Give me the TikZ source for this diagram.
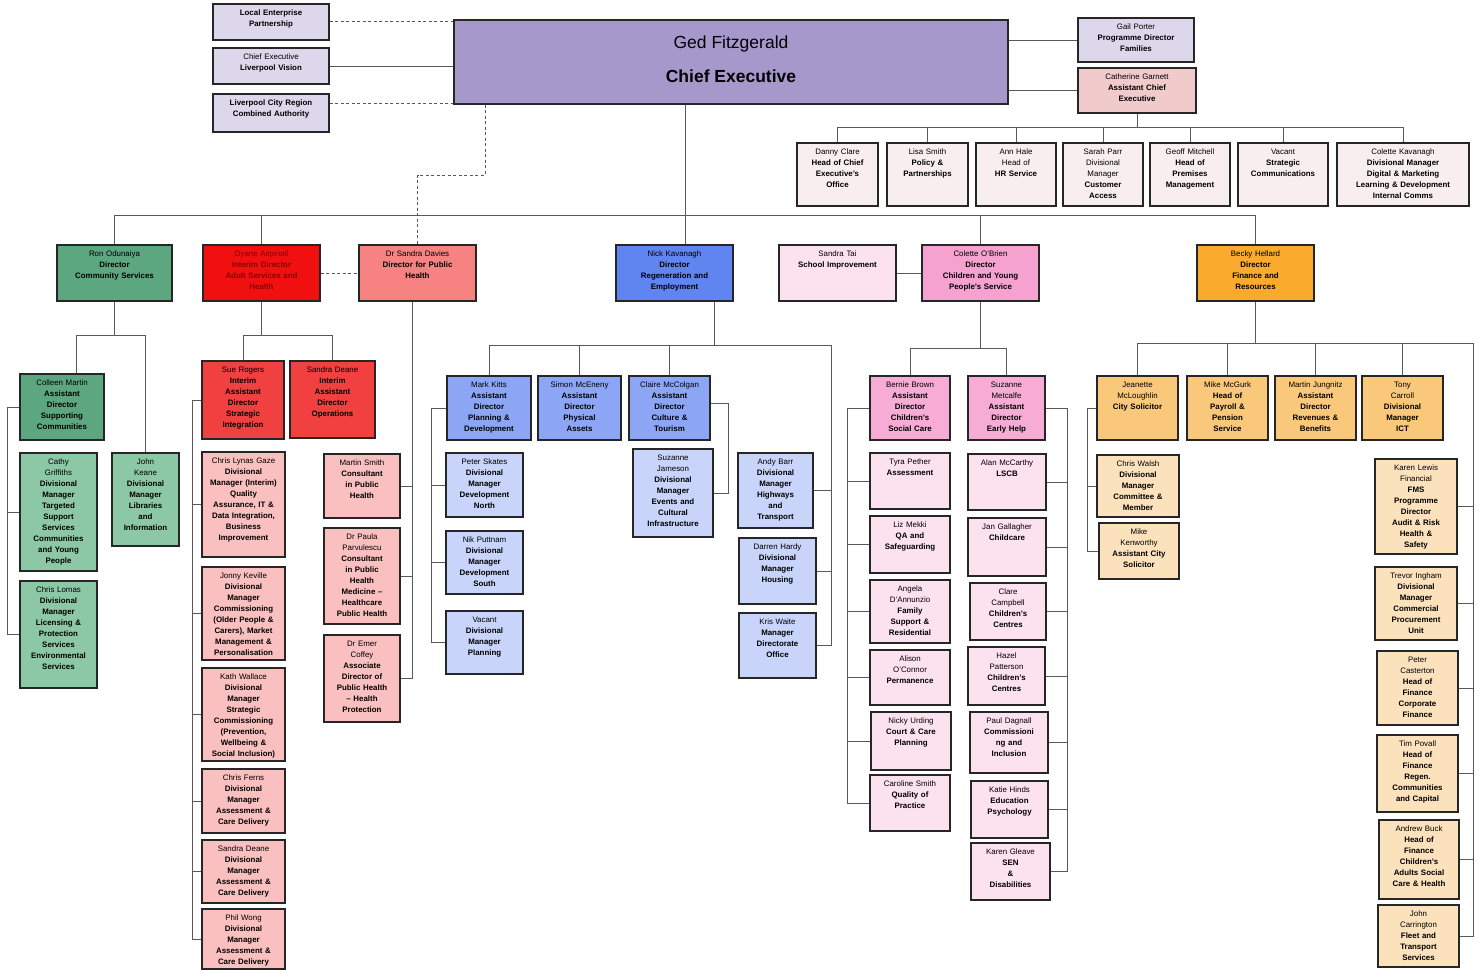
\documentclass[tikz,border=0pt]{standalone}
\usepackage{fontspec}
\setmainfont{Liberation Sans}
\usetikzlibrary{positioning}
\usepackage{xcolor}

\definecolor{ceopurple}{RGB}{167,152,204}
\definecolor{lavlt}{RGB}{221,215,236}
\definecolor{rosecath}{RGB}{241,203,203}
\definecolor{stafffill}{RGB}{248,238,238}
\definecolor{greendk}{RGB}{92,166,128}
\definecolor{greenlt}{RGB}{140,200,165}
\definecolor{reddir}{RGB}{240,16,16}
\definecolor{redmd}{RGB}{240,64,64}
\definecolor{redlt}{RGB}{250,192,192}
\definecolor{salmon}{RGB}{246,130,130}
\definecolor{bluedir}{RGB}{96,132,240}
\definecolor{bluemd}{RGB}{140,166,245}
\definecolor{bluelt}{RGB}{200,212,250}
\definecolor{pinkdir}{RGB}{246,162,208}
\definecolor{pinkmd}{RGB}{246,172,212}
\definecolor{pinklt}{RGB}{252,226,238}
\definecolor{orangedir}{RGB}{250,170,44}
\definecolor{orangemd}{RGB}{250,200,122}
\definecolor{orangelt}{RGB}{252,226,188}

\tikzset{
  box/.style={draw=black!85, line width=1.1pt},
  boxtext/.style={anchor=north, yshift=-6pt, inner sep=0pt, align=center,
    font=\fontsize{7.9}{11}\selectfont},
  link/.style={draw=black!65, line width=1pt},
  dashline/.style={link, dash pattern=on 3pt off 2.5pt}
}

% box: name, fill, x1, y1, x2, y2, text
\newcommand{\orgbox}[7]{%
  \pgfmathsetmacro\boxw{#5-#3}%
  \pgfmathsetmacro\boxh{#6-#4}%
  \pgfmathsetmacro\txtw{#5-#3+8}%
  \node[box, fill=#2, minimum width=\boxw pt, minimum height=\boxh pt] (#1) at ({(#3+#5)/2},{(#4+#6)/2}) {};
  \node[boxtext, text width=\txtw pt] (#1-t) at (#1.north) {#7};}

\begin{document}
\begin{tikzpicture}[x=1pt, y=-1pt]

\useasboundingbox (0,0) rectangle (1480,970);
\fill[white] (0,0) rectangle (1480,970);

% chief executive and partners
\node[box, fill=ceopurple, minimum width=554pt, minimum height=84pt] (chief) at (731,62) {};
\node[font=\fontsize{17.5}{20}\selectfont] (chief-name) at (731,44) {Ged Fitzgerald};
\node[font=\bfseries\fontsize{17.5}{20}\selectfont] (chief-role) at (731,76) {Chief Executive};

\orgbox{lep}{lavlt}{213}{4}{329}{40}{\bfseries Local Enterprise\\Partnership}
\orgbox{celv}{lavlt}{213}{48}{329}{84}{Chief Executive\\\bfseries Liverpool Vision}
\orgbox{lcrca}{lavlt}{213}{94}{329}{132}{\bfseries Liverpool City Region\\Combined Authority}
\orgbox{gail}{lavlt}{1078}{18}{1194}{62}{Gail Porter\\\bfseries Programme Director\\Families}
\orgbox{cath}{rosecath}{1078}{68}{1196}{113}{Catherine Garnett\\\bfseries Assistant Chief\\Executive}

% office of the chief executive
\orgbox{danny}{stafffill}{797}{143}{878}{206}{Danny Clare\\\bfseries Head of Chief\\Executive's\\Office}
\orgbox{lisa}{stafffill}{887}{143}{968}{206}{Lisa Smith\\\bfseries Policy \&\\Partnerships}
\orgbox{annh}{stafffill}{976}{143}{1056}{206}{Ann Hale\\Head of\\\bfseries HR Service}
\orgbox{sarah}{stafffill}{1063}{143}{1143}{206}{Sarah Parr\\Divisional\\Manager\\\bfseries Customer\\Access}
\orgbox{geoff}{stafffill}{1150}{143}{1230}{206}{Geoff Mitchell\\\bfseries Head of\\Premises\\Management}
\orgbox{vacanta}{stafffill}{1238}{143}{1328}{206}{Vacant\\\bfseries Strategic\\Communications}
\orgbox{colk}{stafffill}{1337}{143}{1469}{206}{Colette Kavanagh\\\bfseries Divisional Manager\\Digital \& Marketing\\Learning \& Development\\Internal Comms}

% directors
\orgbox{ron}{greendk}{57}{245}{172}{301}{Ron Odunaiya\\\bfseries Director\\Community Services}
\orgbox{dyane}{reddir}{203}{245}{320}{301}{\color{red!55!black}Dyane Aspinall\\\bfseries Interim Director\\Adult Services and\\Health}
\orgbox{sdavies}{salmon}{359}{245}{476}{301}{Dr Sandra Davies\\\bfseries Director for Public\\Health}
\orgbox{nick}{bluedir}{616}{245}{733}{301}{Nick Kavanagh\\\bfseries Director\\Regeneration and\\Employment}
\orgbox{stai}{pinklt}{779}{245}{896}{301}{Sandra Tai\\\bfseries School Improvement}
\orgbox{cobrien}{pinkdir}{922}{245}{1039}{301}{Colette O'Brien\\\bfseries Director\\Children and Young\\People's Service}
\orgbox{becky}{orangedir}{1197}{245}{1314}{301}{Becky Hellard\\\bfseries Director\\Finance and\\Resources}

% community services
\orgbox{colleen}{greendk}{20}{374}{104}{440}{Colleen Martin\\\bfseries Assistant\\Director\\Supporting\\Communities}
\orgbox{cathy}{greenlt}{20}{453}{97}{571}{Cathy\\Griffiths\\\bfseries Divisional\\Manager\\Targeted\\Support\\Services\\Communities\\and Young\\People}
\orgbox{lomas}{greenlt}{20}{581}{97}{688}{Chris Lomas\\\bfseries Divisional\\Manager\\Licensing \&\\Protection\\Services\\Environmental\\Services}
\orgbox{keane}{greenlt}{112}{453}{179}{546}{John\\Keane\\\bfseries Divisional\\Manager\\Libraries\\and\\Information}

% adult services
\orgbox{sue}{redmd}{202}{361}{284}{439}{Sue Rogers\\\bfseries Interim\\Assistant\\Director\\Strategic\\Integration}
\orgbox{sdeane}{redmd}{290}{361}{375}{438}{Sandra Deane\\\bfseries Interim\\Assistant\\Director\\Operations}
\orgbox{lynas}{redlt}{202}{452}{285}{557}{Chris Lynas Gaze\\\bfseries Divisional\\Manager (Interim)\\Quality\\Assurance, IT \&\\Data Integration,\\Business\\Improvement}
\orgbox{keville}{redlt}{202}{567}{285}{660}{Jonny Keville\\\bfseries Divisional\\Manager\\Commissioning\\(Older People \&\\Carers), Market\\Management \&\\Personalisation}
\orgbox{wallace}{redlt}{202}{668}{285}{761}{Kath Wallace\\\bfseries Divisional\\Manager\\Strategic\\Commissioning\\(Prevention,\\Wellbeing \&\\Social Inclusion)}
\orgbox{ferns}{redlt}{202}{769}{285}{833}{Chris Ferns\\\bfseries Divisional\\Manager\\Assessment \&\\Care Delivery}
\orgbox{sdeaneb}{redlt}{202}{840}{285}{903}{Sandra Deane\\\bfseries Divisional\\Manager\\Assessment \&\\Care Delivery}
\orgbox{wong}{redlt}{202}{909}{285}{969}{Phil Wong\\\bfseries Divisional\\Manager\\Assessment \&\\Care Delivery}

% public health
\orgbox{msmith}{redlt}{324}{454}{400}{518}{Martin Smith\\\bfseries Consultant\\in Public\\Health}
\orgbox{parvu}{redlt}{324}{528}{400}{624}{Dr Paula\\Parvulescu\\\bfseries Consultant\\in Public\\Health\\Medicine --\\Healthcare\\Public Health}
\orgbox{coffey}{redlt}{324}{635}{400}{722}{Dr Emer\\Coffey\\\bfseries Associate\\Director of\\Public Health\\-- Health\\Protection}

% regeneration
\orgbox{kitts}{bluemd}{447}{376}{531}{440}{Mark Kitts\\\bfseries Assistant\\Director\\Planning \&\\Development}
\orgbox{mceneny}{bluemd}{538}{376}{621}{440}{Simon McEneny\\\bfseries Assistant\\Director\\Physical\\Assets}
\orgbox{mccolgan}{bluemd}{629}{376}{710}{440}{Claire McColgan\\\bfseries Assistant\\Director\\Culture \&\\Tourism}
\orgbox{skates}{bluelt}{446}{453}{523}{517}{Peter Skates\\\bfseries Divisional\\Manager\\Development\\North}
\orgbox{puttnam}{bluelt}{446}{531}{523}{594}{Nik Puttnam\\\bfseries Divisional\\Manager\\Development\\South}
\orgbox{vacantb}{bluelt}{446}{611}{523}{674}{Vacant\\\bfseries Divisional\\Manager\\Planning}
\orgbox{jameson}{bluelt}{633}{449}{713}{537}{Suzanne\\Jameson\\\bfseries Divisional\\Manager\\Events and\\Cultural\\Infrastructure}
\orgbox{barr}{bluelt}{738}{453}{813}{528}{Andy Barr\\\bfseries Divisional\\Manager\\Highways\\and\\Transport}
\orgbox{hardy}{bluelt}{739}{538}{816}{604}{Darren Hardy\\\bfseries Divisional\\Manager\\Housing}
\orgbox{waite}{bluelt}{739}{613}{816}{678}{Kris Waite\\\bfseries Manager\\Directorate\\Office}

% children and young people
\orgbox{bbrown}{pinkmd}{870}{376}{950}{440}{Bernie Brown\\\bfseries Assistant\\Director\\Children's\\Social Care}
\orgbox{metcalfe}{pinkmd}{968}{376}{1045}{440}{Suzanne\\Metcalfe\\\bfseries Assistant\\Director\\Early Help}
\orgbox{pether}{pinklt}{870}{453}{950}{509}{Tyra Pether\\\bfseries Assessment}
\orgbox{mekki}{pinklt}{870}{516}{950}{573}{Liz Mekki\\\bfseries QA and\\Safeguarding}
\orgbox{dannunzio}{pinklt}{870}{580}{950}{643}{Angela\\D'Annunzio\\\bfseries Family\\Support \&\\Residential}
\orgbox{oconnor}{pinklt}{870}{650}{950}{705}{Alison\\O'Connor\\\bfseries Permanence}
\orgbox{urding}{pinklt}{871}{712}{951}{770}{Nicky Urding\\\bfseries Court \& Care\\Planning}
\orgbox{csmith}{pinklt}{870}{775}{950}{831}{Caroline Smith\\\bfseries Quality of\\Practice}
\orgbox{mccarthy}{pinklt}{968}{454}{1046}{510}{Alan McCarthy\\\bfseries LSCB}
\orgbox{gallagher}{pinklt}{968}{518}{1046}{576}{Jan Gallagher\\\bfseries Childcare}
\orgbox{campbell}{pinklt}{970}{583}{1046}{640}{Clare\\Campbell\\\bfseries Children's\\Centres}
\orgbox{patterson}{pinklt}{968}{647}{1045}{705}{Hazel\\Patterson\\\bfseries Children's\\Centres}
\orgbox{dagnall}{pinklt}{970}{712}{1048}{773}{Paul Dagnall\\\bfseries Commissioni\\ng and\\Inclusion}
\orgbox{hinds}{pinklt}{971}{781}{1048}{838}{Katie Hinds\\\bfseries Education\\Psychology}
\orgbox{gleave}{pinklt}{971}{843}{1050}{900}{Karen Gleave\\\bfseries SEN\\\&\\Disabilities}

% finance and resources
\orgbox{jeanette}{orangemd}{1097}{376}{1178}{440}{Jeanette\\McLoughlin\\\bfseries City Solicitor}
\orgbox{mcgurk}{orangemd}{1187}{376}{1268}{440}{Mike McGurk\\\bfseries Head of\\Payroll \&\\Pension\\Service}
\orgbox{jungnitz}{orangemd}{1275}{376}{1356}{440}{Martin Jungnitz\\\bfseries Assistant\\Director\\Revenues \&\\Benefits}
\orgbox{carroll}{orangemd}{1362}{376}{1443}{440}{Tony\\Carroll\\\bfseries Divisional\\Manager\\ICT}
\orgbox{walsh}{orangelt}{1097}{455}{1179}{517}{Chris Walsh\\\bfseries Divisional\\Manager\\Committee \&\\Member}
\orgbox{kenworthy}{orangelt}{1099}{523}{1179}{579}{Mike\\Kenworthy\\\bfseries Assistant City\\Solicitor}
\orgbox{lewis}{orangelt}{1375}{459}{1457}{554}{Karen Lewis\\Financial\\\bfseries FMS\\Programme\\Director\\Audit \& Risk\\Health \&\\Safety}
\orgbox{ingham}{orangelt}{1375}{567}{1457}{640}{Trevor Ingham\\\bfseries Divisional\\Manager\\Commercial\\Procurement\\Unit}
\orgbox{casterton}{orangelt}{1377}{651}{1458}{725}{Peter\\Casterton\\\bfseries Head of\\Finance\\Corporate\\Finance}
\orgbox{povall}{orangelt}{1377}{735}{1458}{812}{Tim Povall\\\bfseries Head of\\Finance\\Regen.\\Communities\\and Capital}
\orgbox{buck}{orangelt}{1379}{820}{1459}{899}{Andrew Buck\\\bfseries Head of\\Finance\\Children's\\Adults Social\\Care \& Health}
\orgbox{carrington}{orangelt}{1378}{905}{1459}{967}{John\\Carrington\\\bfseries Fleet and\\Transport\\Services}

% top links
\draw[dashline] ([yshift=1pt]lep.east) -- ([yshift=1pt]lep.east -| chief.west);
\draw[link] (celv.east) -- (celv.east -| chief.west);
\draw[dashline] ([yshift=10pt]lcrca.east) -- ([yshift=10pt]lcrca.east -| chief.west);
\draw[link] (chief.east |- gail.west) -- (gail.west);
\draw[link] (chief.east |- cath.west) -- (cath.west);

\draw[link] (cath.south) -- (cath.south |- 0,127);
\draw[link] (danny.north |- 0,127) -- (colk.north |- 0,127);
\foreach \nd in {danny,lisa,annh,sarah,geoff,vacanta,colk}
  \draw[link] (\nd.north) -- (\nd.north |- 0,127);

% main bus
\draw[link] (685,0 |- chief.south) -- (685,0 |- nick.north);
\draw[link] (ron.north |- 0,215) -- (becky.north |- 0,215);
\foreach \nd in {ron,dyane,cobrien,becky}
  \draw[link] (\nd.north) -- (\nd.north |- 0,215);
\draw[dashline] (485,0 |- chief.south) |- (sdavies.north |- 0,175) -- (sdavies.north);
\draw[dashline] (dyane.east) -- (sdavies.west);
\draw[link] (stai.east) -- (cobrien.west);

% community services
\draw[link] (ron.south) -- (ron.south |- 0,335);
\draw[link] (76,0 |- colleen.north) |- (keane.north |- 0,335) -- (keane.north);
\draw[link] (colleen.west) -| (7,0 |- lomas.west) -- (lomas.west);
\draw[link] (cathy.west) -- (7,0 |- cathy.west);

% adult services
\draw[link] (dyane.south) -- (dyane.south |- 0,335);
\draw[link] (sue.north) |- (sdeane.north |- 0,335) -- (sdeane.north);
\draw[link] (sue.west) -| (192,0 |- wong.west) -- (wong.west);
\foreach \nd in {lynas,keville,wallace,ferns,sdeaneb}
  \draw[link] (\nd.west) -- (192,0 |- \nd.west);

% public health
\draw[link] (412,0 |- sdavies.south) -- (412,0 |- coffey.east) -- (coffey.east);
\foreach \nd in {msmith,parvu}
  \draw[link] (\nd.east) -- (412,0 |- \nd.east);

% regeneration
\draw[link] (714,0 |- nick.south) -- (714,345);
\draw[link] (kitts.north) |- (831,345) -- (831,0 |- waite.east) -- (waite.east);
\foreach \nd in {mceneny,mccolgan}
  \draw[link] (\nd.north) -- (\nd.north |- 0,345);
\foreach \nd in {barr,hardy}
  \draw[link] (\nd.east) -- (831,0 |- \nd.east);
\draw[link] (kitts.west) -| (431,0 |- vacantb.west) -- (vacantb.west);
\foreach \nd in {skates,puttnam}
  \draw[link] (\nd.west) -- (431,0 |- \nd.west);
\draw[link] ([yshift=5pt]mccolgan.east) -| (728,0 |- jameson.east) -- (jameson.east);

% children and young people
\draw[link] (cobrien.south) -- (cobrien.south |- 0,348);
\draw[link] (bbrown.north) |- (metcalfe.north |- 0,348) -- (metcalfe.north);
\draw[link] (bbrown.west) -| (847,0 |- csmith.west) -- (csmith.west);
\foreach \nd in {pether,mekki,dannunzio,oconnor,urding}
  \draw[link] (\nd.west) -- (847,0 |- \nd.west);
\draw[link] (metcalfe.east) -| (1067,0 |- gleave.east) -- (gleave.east);
\foreach \nd in {mccarthy,gallagher,campbell,patterson,dagnall,hinds}
  \draw[link] (\nd.east) -- (1067,0 |- \nd.east);

% finance and resources
\draw[link] (becky.south) -- (becky.south |- 0,343);
\draw[link] (jeanette.north) |- (1473,343) -- (1473,0 |- carrington.east) -- (carrington.east);
\foreach \nd in {mcgurk,jungnitz,carroll}
  \draw[link] (\nd.north) -- (\nd.north |- 0,343);
\draw[link] (jeanette.west) -| (1087,0 |- kenworthy.west) -- (kenworthy.west);
\draw[link] (walsh.west) -- (1087,0 |- walsh.west);
\foreach \nd in {lewis,ingham,casterton,povall,buck}
  \draw[link] (\nd.east) -- (1473,0 |- \nd.east);

\end{tikzpicture}
\end{document}
